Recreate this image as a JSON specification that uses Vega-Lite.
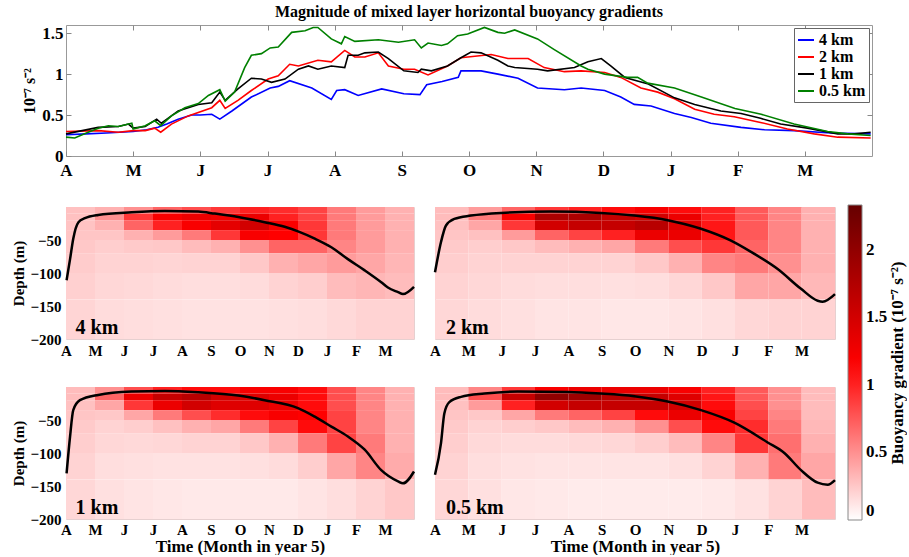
{
"$schema":"https://vega.github.io/schema/vega-lite/v6.json",
"padding":{"left":11,"top":3,"right":0,"bottom":0},
"spacing":26,
"config":{
 "font":"Liberation Serif",
 "view":{"stroke":"#999"},
 "axis":{"labelFont":"Liberation Serif","titleFont":"Liberation Serif","labelFontWeight":"bold","titleFontWeight":"bold","labelColor":"#000","titleColor":"#000","grid":false,"domain":false,"ticks":false},
 "legend":{"labelFont":"Liberation Serif","titleFont":"Liberation Serif","labelFontWeight":"bold","titleFontWeight":"bold","labelColor":"#000","titleColor":"#000"},
 "title":{"font":"Liberation Serif","fontWeight":"bold","color":"#000"}
},
"datasets":{
"lines":[
{"s":"4 km","t":0,"v":0.26},{"s":"4 km","t":0.3,"v":0.27},{"s":"4 km","t":0.6,"v":0.28},{"s":"4 km","t":1.0,"v":0.30},{"s":"4 km","t":1.2,"v":0.32},{"s":"4 km","t":1.37,"v":0.35},{"s":"4 km","t":1.5,"v":0.39},{"s":"4 km","t":1.67,"v":0.45},{"s":"4 km","t":1.87,"v":0.50},{"s":"4 km","t":2.0,"v":0.50},{"s":"4 km","t":2.17,"v":0.51},{"s":"4 km","t":2.29,"v":0.45},{"s":"4 km","t":2.47,"v":0.55},{"s":"4 km","t":2.76,"v":0.72},{"s":"4 km","t":3.04,"v":0.83},{"s":"4 km","t":3.16,"v":0.85},{"s":"4 km","t":3.33,"v":0.92},{"s":"4 km","t":3.66,"v":0.83},{"s":"4 km","t":3.95,"v":0.69},{"s":"4 km","t":4.03,"v":0.80},{"s":"4 km","t":4.15,"v":0.81},{"s":"4 km","t":4.35,"v":0.74},{"s":"4 km","t":4.7,"v":0.82},{"s":"4 km","t":5.03,"v":0.76},{"s":"4 km","t":5.27,"v":0.75},{"s":"4 km","t":5.37,"v":0.87},{"s":"4 km","t":5.6,"v":0.91},{"s":"4 km","t":5.84,"v":0.96},{"s":"4 km","t":5.88,"v":1.04},{"s":"4 km","t":6.18,"v":1.04},{"s":"4 km","t":6.43,"v":1.0},{"s":"4 km","t":6.73,"v":0.95},{"s":"4 km","t":7.02,"v":0.83},{"s":"4 km","t":7.42,"v":0.81},{"s":"4 km","t":7.67,"v":0.83},{"s":"4 km","t":8.02,"v":0.80},{"s":"4 km","t":8.26,"v":0.72},{"s":"4 km","t":8.46,"v":0.63},{"s":"4 km","t":8.71,"v":0.61},{"s":"4 km","t":9.06,"v":0.52},{"s":"4 km","t":9.31,"v":0.47},{"s":"4 km","t":9.6,"v":0.40},{"s":"4 km","t":10.05,"v":0.35},{"s":"4 km","t":10.4,"v":0.32},{"s":"4 km","t":10.84,"v":0.31},{"s":"4 km","t":11.39,"v":0.28},{"s":"4 km","t":11.98,"v":0.27},
{"s":"2 km","t":0,"v":0.30},{"s":"2 km","t":0.48,"v":0.31},{"s":"2 km","t":0.78,"v":0.29},{"s":"2 km","t":1.0,"v":0.31},{"s":"2 km","t":1.18,"v":0.31},{"s":"2 km","t":1.32,"v":0.34},{"s":"2 km","t":1.41,"v":0.29},{"s":"2 km","t":1.57,"v":0.39},{"s":"2 km","t":1.82,"v":0.49},{"s":"2 km","t":2.17,"v":0.59},{"s":"2 km","t":2.29,"v":0.68},{"s":"2 km","t":2.37,"v":0.58},{"s":"2 km","t":2.56,"v":0.68},{"s":"2 km","t":2.76,"v":0.80},{"s":"2 km","t":3.01,"v":0.94},{"s":"2 km","t":3.16,"v":0.98},{"s":"2 km","t":3.33,"v":1.12},{"s":"2 km","t":3.46,"v":1.10},{"s":"2 km","t":3.75,"v":1.17},{"s":"2 km","t":3.95,"v":1.15},{"s":"2 km","t":4.15,"v":1.29},{"s":"2 km","t":4.3,"v":1.21},{"s":"2 km","t":4.45,"v":1.21},{"s":"2 km","t":4.65,"v":1.26},{"s":"2 km","t":4.8,"v":1.10},{"s":"2 km","t":5.03,"v":1.06},{"s":"2 km","t":5.19,"v":1.06},{"s":"2 km","t":5.39,"v":0.99},{"s":"2 km","t":5.68,"v":1.10},{"s":"2 km","t":5.88,"v":1.20},{"s":"2 km","t":6.33,"v":1.24},{"s":"2 km","t":6.58,"v":1.19},{"s":"2 km","t":6.88,"v":1.19},{"s":"2 km","t":7.12,"v":1.08},{"s":"2 km","t":7.42,"v":1.03},{"s":"2 km","t":7.67,"v":1.04},{"s":"2 km","t":8.02,"v":1.02},{"s":"2 km","t":8.26,"v":0.96},{"s":"2 km","t":8.56,"v":0.83},{"s":"2 km","t":8.81,"v":0.78},{"s":"2 km","t":9.06,"v":0.70},{"s":"2 km","t":9.36,"v":0.57},{"s":"2 km","t":9.65,"v":0.51},{"s":"2 km","t":9.95,"v":0.48},{"s":"2 km","t":10.34,"v":0.41},{"s":"2 km","t":10.74,"v":0.33},{"s":"2 km","t":11.14,"v":0.27},{"s":"2 km","t":11.49,"v":0.23},{"s":"2 km","t":11.98,"v":0.22},
{"s":"1 km","t":0,"v":0.27},{"s":"1 km","t":0.48,"v":0.35},{"s":"1 km","t":0.78,"v":0.36},{"s":"1 km","t":0.93,"v":0.39},{"s":"1 km","t":1.0,"v":0.34},{"s":"1 km","t":1.18,"v":0.36},{"s":"1 km","t":1.35,"v":0.45},{"s":"1 km","t":1.42,"v":0.40},{"s":"1 km","t":1.67,"v":0.55},{"s":"1 km","t":1.97,"v":0.63},{"s":"1 km","t":2.17,"v":0.65},{"s":"1 km","t":2.29,"v":0.78},{"s":"1 km","t":2.37,"v":0.68},{"s":"1 km","t":2.56,"v":0.82},{"s":"1 km","t":2.76,"v":0.95},{"s":"1 km","t":2.91,"v":0.94},{"s":"1 km","t":3.06,"v":0.90},{"s":"1 km","t":3.26,"v":0.94},{"s":"1 km","t":3.46,"v":1.06},{"s":"1 km","t":3.61,"v":1.10},{"s":"1 km","t":3.75,"v":1.06},{"s":"1 km","t":3.95,"v":1.10},{"s":"1 km","t":4.15,"v":1.08},{"s":"1 km","t":4.2,"v":1.23},{"s":"1 km","t":4.35,"v":1.23},{"s":"1 km","t":4.45,"v":1.26},{"s":"1 km","t":4.65,"v":1.27},{"s":"1 km","t":4.8,"v":1.19},{"s":"1 km","t":5.03,"v":1.04},{"s":"1 km","t":5.24,"v":1.02},{"s":"1 km","t":5.29,"v":1.06},{"s":"1 km","t":5.44,"v":1.04},{"s":"1 km","t":5.68,"v":1.10},{"s":"1 km","t":5.88,"v":1.20},{"s":"1 km","t":6.03,"v":1.27},{"s":"1 km","t":6.18,"v":1.26},{"s":"1 km","t":6.43,"v":1.17},{"s":"1 km","t":6.58,"v":1.10},{"s":"1 km","t":6.68,"v":1.08},{"s":"1 km","t":7.02,"v":1.06},{"s":"1 km","t":7.17,"v":1.04},{"s":"1 km","t":7.57,"v":1.08},{"s":"1 km","t":7.77,"v":1.15},{"s":"1 km","t":7.97,"v":1.19},{"s":"1 km","t":8.11,"v":1.10},{"s":"1 km","t":8.32,"v":0.96},{"s":"1 km","t":8.67,"v":0.88},{"s":"1 km","t":9.06,"v":0.71},{"s":"1 km","t":9.36,"v":0.63},{"s":"1 km","t":9.75,"v":0.55},{"s":"1 km","t":10.05,"v":0.52},{"s":"1 km","t":10.34,"v":0.46},{"s":"1 km","t":10.64,"v":0.39},{"s":"1 km","t":11.04,"v":0.34},{"s":"1 km","t":11.49,"v":0.27},{"s":"1 km","t":11.74,"v":0.27},{"s":"1 km","t":11.98,"v":0.29},
{"s":"0.5 km","t":0,"v":0.23},{"s":"0.5 km","t":0.13,"v":0.22},{"s":"0.5 km","t":0.33,"v":0.29},{"s":"0.5 km","t":0.48,"v":0.34},{"s":"0.5 km","t":0.63,"v":0.37},{"s":"0.5 km","t":0.78,"v":0.36},{"s":"0.5 km","t":0.98,"v":0.40},{"s":"0.5 km","t":1.0,"v":0.33},{"s":"0.5 km","t":1.18,"v":0.37},{"s":"0.5 km","t":1.32,"v":0.43},{"s":"0.5 km","t":1.41,"v":0.37},{"s":"0.5 km","t":1.57,"v":0.49},{"s":"0.5 km","t":1.77,"v":0.59},{"s":"0.5 km","t":1.97,"v":0.64},{"s":"0.5 km","t":2.12,"v":0.74},{"s":"0.5 km","t":2.29,"v":0.81},{"s":"0.5 km","t":2.37,"v":0.67},{"s":"0.5 km","t":2.51,"v":0.78},{"s":"0.5 km","t":2.66,"v":1.08},{"s":"0.5 km","t":2.76,"v":1.23},{"s":"0.5 km","t":2.91,"v":1.25},{"s":"0.5 km","t":3.04,"v":1.32},{"s":"0.5 km","t":3.16,"v":1.33},{"s":"0.5 km","t":3.36,"v":1.51},{"s":"0.5 km","t":3.56,"v":1.53},{"s":"0.5 km","t":3.68,"v":1.57},{"s":"0.5 km","t":3.75,"v":1.57},{"s":"0.5 km","t":3.95,"v":1.43},{"s":"0.5 km","t":4.1,"v":1.37},{"s":"0.5 km","t":4.15,"v":1.46},{"s":"0.5 km","t":4.3,"v":1.40},{"s":"0.5 km","t":4.65,"v":1.42},{"s":"0.5 km","t":4.95,"v":1.39},{"s":"0.5 km","t":5.19,"v":1.42},{"s":"0.5 km","t":5.29,"v":1.32},{"s":"0.5 km","t":5.39,"v":1.38},{"s":"0.5 km","t":5.59,"v":1.35},{"s":"0.5 km","t":5.68,"v":1.37},{"s":"0.5 km","t":5.83,"v":1.47},{"s":"0.5 km","t":5.98,"v":1.49},{"s":"0.5 km","t":6.23,"v":1.57},{"s":"0.5 km","t":6.43,"v":1.51},{"s":"0.5 km","t":6.53,"v":1.50},{"s":"0.5 km","t":6.68,"v":1.54},{"s":"0.5 km","t":7.02,"v":1.43},{"s":"0.5 km","t":7.27,"v":1.30},{"s":"0.5 km","t":7.67,"v":1.10},{"s":"0.5 km","t":7.77,"v":1.06},{"s":"0.5 km","t":8.02,"v":1.00},{"s":"0.5 km","t":8.36,"v":0.96},{"s":"0.5 km","t":8.51,"v":0.96},{"s":"0.5 km","t":8.66,"v":0.89},{"s":"0.5 km","t":9.06,"v":0.83},{"s":"0.5 km","t":9.46,"v":0.72},{"s":"0.5 km","t":9.96,"v":0.58},{"s":"0.5 km","t":10.35,"v":0.51},{"s":"0.5 km","t":10.84,"v":0.39},{"s":"0.5 km","t":11.34,"v":0.30},{"s":"0.5 km","t":11.64,"v":0.27},{"s":"0.5 km","t":11.98,"v":0.25}
],
"mld":[
{"p":"4 km","t":0.02,"z":-111},{"p":"4 km","t":0.14,"z":-79},{"p":"4 km","t":0.25,"z":-48},{"p":"4 km","t":0.43,"z":-23},{"p":"4 km","t":0.65,"z":-17},{"p":"4 km","t":1.11,"z":-12},{"p":"4 km","t":2.26,"z":-8},{"p":"4 km","t":3.41,"z":-6},{"p":"4 km","t":4.56,"z":-7},{"p":"4 km","t":5.13,"z":-10},{"p":"4 km","t":5.94,"z":-15},{"p":"4 km","t":6.85,"z":-23},{"p":"4 km","t":7.54,"z":-30},{"p":"4 km","t":8.0,"z":-37},{"p":"4 km","t":8.58,"z":-48},{"p":"4 km","t":9.15,"z":-61},{"p":"4 km","t":9.72,"z":-79},{"p":"4 km","t":10.3,"z":-96},{"p":"4 km","t":10.87,"z":-114},{"p":"4 km","t":11.1,"z":-122},{"p":"4 km","t":11.45,"z":-129},{"p":"4 km","t":11.62,"z":-132},{"p":"4 km","t":12,"z":-121},
{"p":"2 km","t":0,"z":-99},{"p":"2 km","t":0.18,"z":-53},{"p":"2 km","t":0.33,"z":-28},{"p":"2 km","t":0.58,"z":-18},{"p":"2 km","t":1.08,"z":-13},{"p":"2 km","t":1.98,"z":-9},{"p":"2 km","t":3.48,"z":-7},{"p":"2 km","t":4.98,"z":-9},{"p":"2 km","t":5.98,"z":-13},{"p":"2 km","t":6.98,"z":-20},{"p":"2 km","t":7.98,"z":-33},{"p":"2 km","t":8.88,"z":-51},{"p":"2 km","t":9.48,"z":-68},{"p":"2 km","t":10.28,"z":-94},{"p":"2 km","t":10.98,"z":-124},{"p":"2 km","t":11.48,"z":-142},{"p":"2 km","t":11.63,"z":-143.5},{"p":"2 km","t":12,"z":-132},
{"p":"1 km","t":0.02,"z":-131},{"p":"1 km","t":0.14,"z":-75},{"p":"1 km","t":0.25,"z":-35},{"p":"1 km","t":0.48,"z":-20},{"p":"1 km","t":1.11,"z":-12},{"p":"1 km","t":2.26,"z":-7},{"p":"1 km","t":3.41,"z":-6},{"p":"1 km","t":4.56,"z":-8},{"p":"1 km","t":5.94,"z":-13},{"p":"1 km","t":6.85,"z":-20},{"p":"1 km","t":8.0,"z":-32},{"p":"1 km","t":8.58,"z":-45},{"p":"1 km","t":9.15,"z":-60},{"p":"1 km","t":9.72,"z":-75},{"p":"1 km","t":10.3,"z":-95},{"p":"1 km","t":10.87,"z":-126},{"p":"1 km","t":11.45,"z":-143},{"p":"1 km","t":11.62,"z":-146},{"p":"1 km","t":12,"z":-128},
{"p":"0.5 km","t":0,"z":-133},{"p":"0.5 km","t":0.18,"z":-85},{"p":"0.5 km","t":0.28,"z":-40},{"p":"0.5 km","t":0.43,"z":-23},{"p":"0.5 km","t":0.78,"z":-15},{"p":"0.5 km","t":1.48,"z":-10},{"p":"0.5 km","t":2.48,"z":-7},{"p":"0.5 km","t":3.98,"z":-7.6},{"p":"0.5 km","t":4.98,"z":-10},{"p":"0.5 km","t":5.98,"z":-14},{"p":"0.5 km","t":6.98,"z":-22},{"p":"0.5 km","t":7.98,"z":-35},{"p":"0.5 km","t":8.98,"z":-54},{"p":"0.5 km","t":9.98,"z":-84},{"p":"0.5 km","t":10.48,"z":-100},{"p":"0.5 km","t":10.98,"z":-126},{"p":"0.5 km","t":11.48,"z":-145},{"p":"0.5 km","t":11.78,"z":-148},{"p":"0.5 km","t":12,"z":-141}
],
"heat":[
{"p":"4 km","t":0,"t2":1,"z":0,"z2":-10,"v":0.28},{"p":"4 km","t":0,"t2":1,"z":-10,"z2":-20,"v":0.28},{"p":"4 km","t":0,"t2":1,"z":-20,"z2":-35,"v":0.27},{"p":"4 km","t":0,"t2":1,"z":-35,"z2":-50,"v":0.26},{"p":"4 km","t":0,"t2":1,"z":-50,"z2":-70,"v":0.25},{"p":"4 km","t":0,"t2":1,"z":-70,"z2":-100,"v":0.23},{"p":"4 km","t":0,"t2":1,"z":-100,"z2":-140,"v":0.21},{"p":"4 km","t":0,"t2":1,"z":-140,"z2":-200,"v":0.19},
{"p":"4 km","t":1,"t2":2,"z":0,"z2":-10,"v":0.35},{"p":"4 km","t":1,"t2":2,"z":-10,"z2":-20,"v":0.5},{"p":"4 km","t":1,"t2":2,"z":-20,"z2":-35,"v":0.35},{"p":"4 km","t":1,"t2":2,"z":-35,"z2":-50,"v":0.26},{"p":"4 km","t":1,"t2":2,"z":-50,"z2":-70,"v":0.22},{"p":"4 km","t":1,"t2":2,"z":-70,"z2":-100,"v":0.2},{"p":"4 km","t":1,"t2":2,"z":-100,"z2":-140,"v":0.18},{"p":"4 km","t":1,"t2":2,"z":-140,"z2":-200,"v":0.16},
{"p":"4 km","t":2,"t2":3,"z":0,"z2":-10,"v":0.5},{"p":"4 km","t":2,"t2":3,"z":-10,"z2":-20,"v":0.9},{"p":"4 km","t":2,"t2":3,"z":-20,"z2":-35,"v":0.7},{"p":"4 km","t":2,"t2":3,"z":-35,"z2":-50,"v":0.35},{"p":"4 km","t":2,"t2":3,"z":-50,"z2":-70,"v":0.24},{"p":"4 km","t":2,"t2":3,"z":-70,"z2":-100,"v":0.2},{"p":"4 km","t":2,"t2":3,"z":-100,"z2":-140,"v":0.17},{"p":"4 km","t":2,"t2":3,"z":-140,"z2":-200,"v":0.15},
{"p":"4 km","t":3,"t2":4,"z":0,"z2":-10,"v":0.7},{"p":"4 km","t":3,"t2":4,"z":-10,"z2":-20,"v":1.2},{"p":"4 km","t":3,"t2":4,"z":-20,"z2":-35,"v":1.0},{"p":"4 km","t":3,"t2":4,"z":-35,"z2":-50,"v":0.45},{"p":"4 km","t":3,"t2":4,"z":-50,"z2":-70,"v":0.25},{"p":"4 km","t":3,"t2":4,"z":-70,"z2":-100,"v":0.19},{"p":"4 km","t":3,"t2":4,"z":-100,"z2":-140,"v":0.16},{"p":"4 km","t":3,"t2":4,"z":-140,"z2":-200,"v":0.14},
{"p":"4 km","t":4,"t2":5,"z":0,"z2":-10,"v":0.8},{"p":"4 km","t":4,"t2":5,"z":-10,"z2":-20,"v":1.3},{"p":"4 km","t":4,"t2":5,"z":-20,"z2":-35,"v":1.2},{"p":"4 km","t":4,"t2":5,"z":-35,"z2":-50,"v":0.6},{"p":"4 km","t":4,"t2":5,"z":-50,"z2":-70,"v":0.3},{"p":"4 km","t":4,"t2":5,"z":-70,"z2":-100,"v":0.2},{"p":"4 km","t":4,"t2":5,"z":-100,"z2":-140,"v":0.15},{"p":"4 km","t":4,"t2":5,"z":-140,"z2":-200,"v":0.13},
{"p":"4 km","t":5,"t2":6,"z":0,"z2":-10,"v":0.9},{"p":"4 km","t":5,"t2":6,"z":-10,"z2":-20,"v":1.25},{"p":"4 km","t":5,"t2":6,"z":-20,"z2":-35,"v":1.35},{"p":"4 km","t":5,"t2":6,"z":-35,"z2":-50,"v":0.9},{"p":"4 km","t":5,"t2":6,"z":-50,"z2":-70,"v":0.35},{"p":"4 km","t":5,"t2":6,"z":-70,"z2":-100,"v":0.2},{"p":"4 km","t":5,"t2":6,"z":-100,"z2":-140,"v":0.15},{"p":"4 km","t":5,"t2":6,"z":-140,"z2":-200,"v":0.13},
{"p":"4 km","t":6,"t2":7,"z":0,"z2":-10,"v":1.0},{"p":"4 km","t":6,"t2":7,"z":-10,"z2":-20,"v":1.3},{"p":"4 km","t":6,"t2":7,"z":-20,"z2":-35,"v":1.5},{"p":"4 km","t":6,"t2":7,"z":-35,"z2":-50,"v":1.2},{"p":"4 km","t":6,"t2":7,"z":-50,"z2":-70,"v":0.5},{"p":"4 km","t":6,"t2":7,"z":-70,"z2":-100,"v":0.25},{"p":"4 km","t":6,"t2":7,"z":-100,"z2":-140,"v":0.16},{"p":"4 km","t":6,"t2":7,"z":-140,"z2":-200,"v":0.13},
{"p":"4 km","t":7,"t2":8,"z":0,"z2":-10,"v":0.95},{"p":"4 km","t":7,"t2":8,"z":-10,"z2":-20,"v":1.0},{"p":"4 km","t":7,"t2":8,"z":-20,"z2":-35,"v":1.2},{"p":"4 km","t":7,"t2":8,"z":-35,"z2":-50,"v":1.15},{"p":"4 km","t":7,"t2":8,"z":-50,"z2":-70,"v":0.7},{"p":"4 km","t":7,"t2":8,"z":-70,"z2":-100,"v":0.35},{"p":"4 km","t":7,"t2":8,"z":-100,"z2":-140,"v":0.2},{"p":"4 km","t":7,"t2":8,"z":-140,"z2":-200,"v":0.14},
{"p":"4 km","t":8,"t2":9,"z":0,"z2":-10,"v":0.85},{"p":"4 km","t":8,"t2":9,"z":-10,"z2":-20,"v":0.85},{"p":"4 km","t":8,"t2":9,"z":-20,"z2":-35,"v":0.9},{"p":"4 km","t":8,"t2":9,"z":-35,"z2":-50,"v":0.9},{"p":"4 km","t":8,"t2":9,"z":-50,"z2":-70,"v":0.7},{"p":"4 km","t":8,"t2":9,"z":-70,"z2":-100,"v":0.4},{"p":"4 km","t":8,"t2":9,"z":-100,"z2":-140,"v":0.22},{"p":"4 km","t":8,"t2":9,"z":-140,"z2":-200,"v":0.15},
{"p":"4 km","t":9,"t2":10,"z":0,"z2":-10,"v":0.6},{"p":"4 km","t":9,"t2":10,"z":-10,"z2":-20,"v":0.6},{"p":"4 km","t":9,"t2":10,"z":-20,"z2":-35,"v":0.6},{"p":"4 km","t":9,"t2":10,"z":-35,"z2":-50,"v":0.6},{"p":"4 km","t":9,"t2":10,"z":-50,"z2":-70,"v":0.55},{"p":"4 km","t":9,"t2":10,"z":-70,"z2":-100,"v":0.45},{"p":"4 km","t":9,"t2":10,"z":-100,"z2":-140,"v":0.3},{"p":"4 km","t":9,"t2":10,"z":-140,"z2":-200,"v":0.17},
{"p":"4 km","t":10,"t2":11,"z":0,"z2":-10,"v":0.45},{"p":"4 km","t":10,"t2":11,"z":-10,"z2":-20,"v":0.45},{"p":"4 km","t":10,"t2":11,"z":-20,"z2":-35,"v":0.45},{"p":"4 km","t":10,"t2":11,"z":-35,"z2":-50,"v":0.45},{"p":"4 km","t":10,"t2":11,"z":-50,"z2":-70,"v":0.45},{"p":"4 km","t":10,"t2":11,"z":-70,"z2":-100,"v":0.4},{"p":"4 km","t":10,"t2":11,"z":-100,"z2":-140,"v":0.33},{"p":"4 km","t":10,"t2":11,"z":-140,"z2":-200,"v":0.2},
{"p":"4 km","t":11,"t2":12,"z":0,"z2":-10,"v":0.35},{"p":"4 km","t":11,"t2":12,"z":-10,"z2":-20,"v":0.35},{"p":"4 km","t":11,"t2":12,"z":-20,"z2":-35,"v":0.35},{"p":"4 km","t":11,"t2":12,"z":-35,"z2":-50,"v":0.35},{"p":"4 km","t":11,"t2":12,"z":-50,"z2":-70,"v":0.35},{"p":"4 km","t":11,"t2":12,"z":-70,"z2":-100,"v":0.33},{"p":"4 km","t":11,"t2":12,"z":-100,"z2":-140,"v":0.3},{"p":"4 km","t":11,"t2":12,"z":-140,"z2":-200,"v":0.2},
{"p":"2 km","t":0,"t2":1,"z":0,"z2":-10,"v":0.3},{"p":"2 km","t":0,"t2":1,"z":-10,"z2":-20,"v":0.3},{"p":"2 km","t":0,"t2":1,"z":-20,"z2":-35,"v":0.28},{"p":"2 km","t":0,"t2":1,"z":-35,"z2":-50,"v":0.26},{"p":"2 km","t":0,"t2":1,"z":-50,"z2":-70,"v":0.24},{"p":"2 km","t":0,"t2":1,"z":-70,"z2":-100,"v":0.22},{"p":"2 km","t":0,"t2":1,"z":-100,"z2":-140,"v":0.2},{"p":"2 km","t":0,"t2":1,"z":-140,"z2":-200,"v":0.18},
{"p":"2 km","t":1,"t2":2,"z":0,"z2":-10,"v":0.45},{"p":"2 km","t":1,"t2":2,"z":-10,"z2":-20,"v":0.6},{"p":"2 km","t":1,"t2":2,"z":-20,"z2":-35,"v":0.4},{"p":"2 km","t":1,"t2":2,"z":-35,"z2":-50,"v":0.28},{"p":"2 km","t":1,"t2":2,"z":-50,"z2":-70,"v":0.22},{"p":"2 km","t":1,"t2":2,"z":-70,"z2":-100,"v":0.2},{"p":"2 km","t":1,"t2":2,"z":-100,"z2":-140,"v":0.18},{"p":"2 km","t":1,"t2":2,"z":-140,"z2":-200,"v":0.16},
{"p":"2 km","t":2,"t2":3,"z":0,"z2":-10,"v":0.7},{"p":"2 km","t":2,"t2":3,"z":-10,"z2":-20,"v":1.2},{"p":"2 km","t":2,"t2":3,"z":-20,"z2":-35,"v":0.9},{"p":"2 km","t":2,"t2":3,"z":-35,"z2":-50,"v":0.45},{"p":"2 km","t":2,"t2":3,"z":-50,"z2":-70,"v":0.25},{"p":"2 km","t":2,"t2":3,"z":-70,"z2":-100,"v":0.2},{"p":"2 km","t":2,"t2":3,"z":-100,"z2":-140,"v":0.16},{"p":"2 km","t":2,"t2":3,"z":-140,"z2":-200,"v":0.14},
{"p":"2 km","t":3,"t2":4,"z":0,"z2":-10,"v":0.9},{"p":"2 km","t":3,"t2":4,"z":-10,"z2":-20,"v":1.8},{"p":"2 km","t":3,"t2":4,"z":-20,"z2":-35,"v":1.5},{"p":"2 km","t":3,"t2":4,"z":-35,"z2":-50,"v":0.7},{"p":"2 km","t":3,"t2":4,"z":-50,"z2":-70,"v":0.3},{"p":"2 km","t":3,"t2":4,"z":-70,"z2":-100,"v":0.2},{"p":"2 km","t":3,"t2":4,"z":-100,"z2":-140,"v":0.15},{"p":"2 km","t":3,"t2":4,"z":-140,"z2":-200,"v":0.12},
{"p":"2 km","t":4,"t2":5,"z":0,"z2":-10,"v":1.0},{"p":"2 km","t":4,"t2":5,"z":-10,"z2":-20,"v":1.8},{"p":"2 km","t":4,"t2":5,"z":-20,"z2":-35,"v":1.6},{"p":"2 km","t":4,"t2":5,"z":-35,"z2":-50,"v":0.85},{"p":"2 km","t":4,"t2":5,"z":-50,"z2":-70,"v":0.35},{"p":"2 km","t":4,"t2":5,"z":-70,"z2":-100,"v":0.2},{"p":"2 km","t":4,"t2":5,"z":-100,"z2":-140,"v":0.15},{"p":"2 km","t":4,"t2":5,"z":-140,"z2":-200,"v":0.12},
{"p":"2 km","t":5,"t2":6,"z":0,"z2":-10,"v":1.1},{"p":"2 km","t":5,"t2":6,"z":-10,"z2":-20,"v":1.6},{"p":"2 km","t":5,"t2":6,"z":-20,"z2":-35,"v":1.6},{"p":"2 km","t":5,"t2":6,"z":-35,"z2":-50,"v":1.0},{"p":"2 km","t":5,"t2":6,"z":-50,"z2":-70,"v":0.4},{"p":"2 km","t":5,"t2":6,"z":-70,"z2":-100,"v":0.2},{"p":"2 km","t":5,"t2":6,"z":-100,"z2":-140,"v":0.14},{"p":"2 km","t":5,"t2":6,"z":-140,"z2":-200,"v":0.11},
{"p":"2 km","t":6,"t2":7,"z":0,"z2":-10,"v":1.2},{"p":"2 km","t":6,"t2":7,"z":-10,"z2":-20,"v":1.5},{"p":"2 km","t":6,"t2":7,"z":-20,"z2":-35,"v":1.7},{"p":"2 km","t":6,"t2":7,"z":-35,"z2":-50,"v":1.3},{"p":"2 km","t":6,"t2":7,"z":-50,"z2":-70,"v":0.6},{"p":"2 km","t":6,"t2":7,"z":-70,"z2":-100,"v":0.25},{"p":"2 km","t":6,"t2":7,"z":-100,"z2":-140,"v":0.15},{"p":"2 km","t":6,"t2":7,"z":-140,"z2":-200,"v":0.11},
{"p":"2 km","t":7,"t2":8,"z":0,"z2":-10,"v":1.1},{"p":"2 km","t":7,"t2":8,"z":-10,"z2":-20,"v":1.3},{"p":"2 km","t":7,"t2":8,"z":-20,"z2":-35,"v":1.4},{"p":"2 km","t":7,"t2":8,"z":-35,"z2":-50,"v":1.3},{"p":"2 km","t":7,"t2":8,"z":-50,"z2":-70,"v":0.8},{"p":"2 km","t":7,"t2":8,"z":-70,"z2":-100,"v":0.35},{"p":"2 km","t":7,"t2":8,"z":-100,"z2":-140,"v":0.18},{"p":"2 km","t":7,"t2":8,"z":-140,"z2":-200,"v":0.12},
{"p":"2 km","t":8,"t2":9,"z":0,"z2":-10,"v":1.0},{"p":"2 km","t":8,"t2":9,"z":-10,"z2":-20,"v":1.0},{"p":"2 km","t":8,"t2":9,"z":-20,"z2":-35,"v":1.05},{"p":"2 km","t":8,"t2":9,"z":-35,"z2":-50,"v":1.05},{"p":"2 km","t":8,"t2":9,"z":-50,"z2":-70,"v":0.9},{"p":"2 km","t":8,"t2":9,"z":-70,"z2":-100,"v":0.55},{"p":"2 km","t":8,"t2":9,"z":-100,"z2":-140,"v":0.25},{"p":"2 km","t":8,"t2":9,"z":-140,"z2":-200,"v":0.14},
{"p":"2 km","t":9,"t2":10,"z":0,"z2":-10,"v":0.75},{"p":"2 km","t":9,"t2":10,"z":-10,"z2":-20,"v":0.75},{"p":"2 km","t":9,"t2":10,"z":-20,"z2":-35,"v":0.75},{"p":"2 km","t":9,"t2":10,"z":-35,"z2":-50,"v":0.75},{"p":"2 km","t":9,"t2":10,"z":-50,"z2":-70,"v":0.7},{"p":"2 km","t":9,"t2":10,"z":-70,"z2":-100,"v":0.6},{"p":"2 km","t":9,"t2":10,"z":-100,"z2":-140,"v":0.4},{"p":"2 km","t":9,"t2":10,"z":-140,"z2":-200,"v":0.18},
{"p":"2 km","t":10,"t2":11,"z":0,"z2":-10,"v":0.55},{"p":"2 km","t":10,"t2":11,"z":-10,"z2":-20,"v":0.55},{"p":"2 km","t":10,"t2":11,"z":-20,"z2":-35,"v":0.55},{"p":"2 km","t":10,"t2":11,"z":-35,"z2":-50,"v":0.55},{"p":"2 km","t":10,"t2":11,"z":-50,"z2":-70,"v":0.55},{"p":"2 km","t":10,"t2":11,"z":-70,"z2":-100,"v":0.5},{"p":"2 km","t":10,"t2":11,"z":-100,"z2":-140,"v":0.4},{"p":"2 km","t":10,"t2":11,"z":-140,"z2":-200,"v":0.2},
{"p":"2 km","t":11,"t2":12,"z":0,"z2":-10,"v":0.35},{"p":"2 km","t":11,"t2":12,"z":-10,"z2":-20,"v":0.35},{"p":"2 km","t":11,"t2":12,"z":-20,"z2":-35,"v":0.35},{"p":"2 km","t":11,"t2":12,"z":-35,"z2":-50,"v":0.35},{"p":"2 km","t":11,"t2":12,"z":-50,"z2":-70,"v":0.35},{"p":"2 km","t":11,"t2":12,"z":-70,"z2":-100,"v":0.35},{"p":"2 km","t":11,"t2":12,"z":-100,"z2":-140,"v":0.32},{"p":"2 km","t":11,"t2":12,"z":-140,"z2":-200,"v":0.2},
{"p":"1 km","t":0,"t2":1,"z":0,"z2":-10,"v":0.3},{"p":"1 km","t":0,"t2":1,"z":-10,"z2":-20,"v":0.3},{"p":"1 km","t":0,"t2":1,"z":-20,"z2":-35,"v":0.28},{"p":"1 km","t":0,"t2":1,"z":-35,"z2":-50,"v":0.26},{"p":"1 km","t":0,"t2":1,"z":-50,"z2":-70,"v":0.24},{"p":"1 km","t":0,"t2":1,"z":-70,"z2":-100,"v":0.22},{"p":"1 km","t":0,"t2":1,"z":-100,"z2":-140,"v":0.2},{"p":"1 km","t":0,"t2":1,"z":-140,"z2":-200,"v":0.18},
{"p":"1 km","t":1,"t2":2,"z":0,"z2":-10,"v":0.5},{"p":"1 km","t":1,"t2":2,"z":-10,"z2":-20,"v":0.7},{"p":"1 km","t":1,"t2":2,"z":-20,"z2":-35,"v":0.4},{"p":"1 km","t":1,"t2":2,"z":-35,"z2":-50,"v":0.25},{"p":"1 km","t":1,"t2":2,"z":-50,"z2":-70,"v":0.2},{"p":"1 km","t":1,"t2":2,"z":-70,"z2":-100,"v":0.18},{"p":"1 km","t":1,"t2":2,"z":-100,"z2":-140,"v":0.15},{"p":"1 km","t":1,"t2":2,"z":-140,"z2":-200,"v":0.14},
{"p":"1 km","t":2,"t2":3,"z":0,"z2":-10,"v":0.8},{"p":"1 km","t":2,"t2":3,"z":-10,"z2":-20,"v":1.3},{"p":"1 km","t":2,"t2":3,"z":-20,"z2":-35,"v":0.9},{"p":"1 km","t":2,"t2":3,"z":-35,"z2":-50,"v":0.4},{"p":"1 km","t":2,"t2":3,"z":-50,"z2":-70,"v":0.22},{"p":"1 km","t":2,"t2":3,"z":-70,"z2":-100,"v":0.17},{"p":"1 km","t":2,"t2":3,"z":-100,"z2":-140,"v":0.14},{"p":"1 km","t":2,"t2":3,"z":-140,"z2":-200,"v":0.12},
{"p":"1 km","t":3,"t2":4,"z":0,"z2":-10,"v":1.0},{"p":"1 km","t":3,"t2":4,"z":-10,"z2":-20,"v":1.6},{"p":"1 km","t":3,"t2":4,"z":-20,"z2":-35,"v":1.3},{"p":"1 km","t":3,"t2":4,"z":-35,"z2":-50,"v":0.6},{"p":"1 km","t":3,"t2":4,"z":-50,"z2":-70,"v":0.28},{"p":"1 km","t":3,"t2":4,"z":-70,"z2":-100,"v":0.18},{"p":"1 km","t":3,"t2":4,"z":-100,"z2":-140,"v":0.13},{"p":"1 km","t":3,"t2":4,"z":-140,"z2":-200,"v":0.11},
{"p":"1 km","t":4,"t2":5,"z":0,"z2":-10,"v":1.1},{"p":"1 km","t":4,"t2":5,"z":-10,"z2":-20,"v":1.7},{"p":"1 km","t":4,"t2":5,"z":-20,"z2":-35,"v":1.5},{"p":"1 km","t":4,"t2":5,"z":-35,"z2":-50,"v":0.8},{"p":"1 km","t":4,"t2":5,"z":-50,"z2":-70,"v":0.35},{"p":"1 km","t":4,"t2":5,"z":-70,"z2":-100,"v":0.2},{"p":"1 km","t":4,"t2":5,"z":-100,"z2":-140,"v":0.13},{"p":"1 km","t":4,"t2":5,"z":-140,"z2":-200,"v":0.1},
{"p":"1 km","t":5,"t2":6,"z":0,"z2":-10,"v":1.1},{"p":"1 km","t":5,"t2":6,"z":-10,"z2":-20,"v":1.5},{"p":"1 km","t":5,"t2":6,"z":-20,"z2":-35,"v":1.4},{"p":"1 km","t":5,"t2":6,"z":-35,"z2":-50,"v":0.95},{"p":"1 km","t":5,"t2":6,"z":-50,"z2":-70,"v":0.4},{"p":"1 km","t":5,"t2":6,"z":-70,"z2":-100,"v":0.2},{"p":"1 km","t":5,"t2":6,"z":-100,"z2":-140,"v":0.13},{"p":"1 km","t":5,"t2":6,"z":-140,"z2":-200,"v":0.1},
{"p":"1 km","t":6,"t2":7,"z":0,"z2":-10,"v":1.2},{"p":"1 km","t":6,"t2":7,"z":-10,"z2":-20,"v":1.4},{"p":"1 km","t":6,"t2":7,"z":-20,"z2":-35,"v":1.4},{"p":"1 km","t":6,"t2":7,"z":-35,"z2":-50,"v":1.1},{"p":"1 km","t":6,"t2":7,"z":-50,"z2":-70,"v":0.6},{"p":"1 km","t":6,"t2":7,"z":-70,"z2":-100,"v":0.25},{"p":"1 km","t":6,"t2":7,"z":-100,"z2":-140,"v":0.14},{"p":"1 km","t":6,"t2":7,"z":-140,"z2":-200,"v":0.1},
{"p":"1 km","t":7,"t2":8,"z":0,"z2":-10,"v":1.2},{"p":"1 km","t":7,"t2":8,"z":-10,"z2":-20,"v":1.3},{"p":"1 km","t":7,"t2":8,"z":-20,"z2":-35,"v":1.3},{"p":"1 km","t":7,"t2":8,"z":-35,"z2":-50,"v":1.2},{"p":"1 km","t":7,"t2":8,"z":-50,"z2":-70,"v":0.85},{"p":"1 km","t":7,"t2":8,"z":-70,"z2":-100,"v":0.35},{"p":"1 km","t":7,"t2":8,"z":-100,"z2":-140,"v":0.16},{"p":"1 km","t":7,"t2":8,"z":-140,"z2":-200,"v":0.1},
{"p":"1 km","t":8,"t2":9,"z":0,"z2":-10,"v":1.1},{"p":"1 km","t":8,"t2":9,"z":-10,"z2":-20,"v":1.1},{"p":"1 km","t":8,"t2":9,"z":-20,"z2":-35,"v":1.1},{"p":"1 km","t":8,"t2":9,"z":-35,"z2":-50,"v":1.15},{"p":"1 km","t":8,"t2":9,"z":-50,"z2":-70,"v":1.1},{"p":"1 km","t":8,"t2":9,"z":-70,"z2":-100,"v":0.6},{"p":"1 km","t":8,"t2":9,"z":-100,"z2":-140,"v":0.22},{"p":"1 km","t":8,"t2":9,"z":-140,"z2":-200,"v":0.12},
{"p":"1 km","t":9,"t2":10,"z":0,"z2":-10,"v":0.8},{"p":"1 km","t":9,"t2":10,"z":-10,"z2":-20,"v":0.8},{"p":"1 km","t":9,"t2":10,"z":-20,"z2":-35,"v":0.8},{"p":"1 km","t":9,"t2":10,"z":-35,"z2":-50,"v":0.85},{"p":"1 km","t":9,"t2":10,"z":-50,"z2":-70,"v":0.85},{"p":"1 km","t":9,"t2":10,"z":-70,"z2":-100,"v":0.85},{"p":"1 km","t":9,"t2":10,"z":-100,"z2":-140,"v":0.4},{"p":"1 km","t":9,"t2":10,"z":-140,"z2":-200,"v":0.15},
{"p":"1 km","t":10,"t2":11,"z":0,"z2":-10,"v":0.55},{"p":"1 km","t":10,"t2":11,"z":-10,"z2":-20,"v":0.55},{"p":"1 km","t":10,"t2":11,"z":-20,"z2":-35,"v":0.55},{"p":"1 km","t":10,"t2":11,"z":-35,"z2":-50,"v":0.55},{"p":"1 km","t":10,"t2":11,"z":-50,"z2":-70,"v":0.55},{"p":"1 km","t":10,"t2":11,"z":-70,"z2":-100,"v":0.6},{"p":"1 km","t":10,"t2":11,"z":-100,"z2":-140,"v":0.55},{"p":"1 km","t":10,"t2":11,"z":-140,"z2":-200,"v":0.2},
{"p":"1 km","t":11,"t2":12,"z":0,"z2":-10,"v":0.35},{"p":"1 km","t":11,"t2":12,"z":-10,"z2":-20,"v":0.35},{"p":"1 km","t":11,"t2":12,"z":-20,"z2":-35,"v":0.35},{"p":"1 km","t":11,"t2":12,"z":-35,"z2":-50,"v":0.35},{"p":"1 km","t":11,"t2":12,"z":-50,"z2":-70,"v":0.35},{"p":"1 km","t":11,"t2":12,"z":-70,"z2":-100,"v":0.35},{"p":"1 km","t":11,"t2":12,"z":-100,"z2":-140,"v":0.38},{"p":"1 km","t":11,"t2":12,"z":-140,"z2":-200,"v":0.25},
{"p":"0.5 km","t":0,"t2":1,"z":0,"z2":-10,"v":0.3},{"p":"0.5 km","t":0,"t2":1,"z":-10,"z2":-20,"v":0.3},{"p":"0.5 km","t":0,"t2":1,"z":-20,"z2":-35,"v":0.28},{"p":"0.5 km","t":0,"t2":1,"z":-35,"z2":-50,"v":0.26},{"p":"0.5 km","t":0,"t2":1,"z":-50,"z2":-70,"v":0.24},{"p":"0.5 km","t":0,"t2":1,"z":-70,"z2":-100,"v":0.22},{"p":"0.5 km","t":0,"t2":1,"z":-100,"z2":-140,"v":0.2},{"p":"0.5 km","t":0,"t2":1,"z":-140,"z2":-200,"v":0.18},
{"p":"0.5 km","t":1,"t2":2,"z":0,"z2":-10,"v":0.55},{"p":"0.5 km","t":1,"t2":2,"z":-10,"z2":-20,"v":0.8},{"p":"0.5 km","t":1,"t2":2,"z":-20,"z2":-35,"v":0.45},{"p":"0.5 km","t":1,"t2":2,"z":-35,"z2":-50,"v":0.25},{"p":"0.5 km","t":1,"t2":2,"z":-50,"z2":-70,"v":0.2},{"p":"0.5 km","t":1,"t2":2,"z":-70,"z2":-100,"v":0.17},{"p":"0.5 km","t":1,"t2":2,"z":-100,"z2":-140,"v":0.15},{"p":"0.5 km","t":1,"t2":2,"z":-140,"z2":-200,"v":0.14},
{"p":"0.5 km","t":2,"t2":3,"z":0,"z2":-10,"v":0.9},{"p":"0.5 km","t":2,"t2":3,"z":-10,"z2":-20,"v":1.6},{"p":"0.5 km","t":2,"t2":3,"z":-20,"z2":-35,"v":1.0},{"p":"0.5 km","t":2,"t2":3,"z":-35,"z2":-50,"v":0.4},{"p":"0.5 km","t":2,"t2":3,"z":-50,"z2":-70,"v":0.22},{"p":"0.5 km","t":2,"t2":3,"z":-70,"z2":-100,"v":0.16},{"p":"0.5 km","t":2,"t2":3,"z":-100,"z2":-140,"v":0.13},{"p":"0.5 km","t":2,"t2":3,"z":-140,"z2":-200,"v":0.11},
{"p":"0.5 km","t":3,"t2":4,"z":0,"z2":-10,"v":1.2},{"p":"0.5 km","t":3,"t2":4,"z":-10,"z2":-20,"v":2.0},{"p":"0.5 km","t":3,"t2":4,"z":-20,"z2":-35,"v":1.5},{"p":"0.5 km","t":3,"t2":4,"z":-35,"z2":-50,"v":0.6},{"p":"0.5 km","t":3,"t2":4,"z":-50,"z2":-70,"v":0.25},{"p":"0.5 km","t":3,"t2":4,"z":-70,"z2":-100,"v":0.16},{"p":"0.5 km","t":3,"t2":4,"z":-100,"z2":-140,"v":0.12},{"p":"0.5 km","t":3,"t2":4,"z":-140,"z2":-200,"v":0.1},
{"p":"0.5 km","t":4,"t2":5,"z":0,"z2":-10,"v":1.3},{"p":"0.5 km","t":4,"t2":5,"z":-10,"z2":-20,"v":1.9},{"p":"0.5 km","t":4,"t2":5,"z":-20,"z2":-35,"v":1.6},{"p":"0.5 km","t":4,"t2":5,"z":-35,"z2":-50,"v":0.7},{"p":"0.5 km","t":4,"t2":5,"z":-50,"z2":-70,"v":0.3},{"p":"0.5 km","t":4,"t2":5,"z":-70,"z2":-100,"v":0.17},{"p":"0.5 km","t":4,"t2":5,"z":-100,"z2":-140,"v":0.12},{"p":"0.5 km","t":4,"t2":5,"z":-140,"z2":-200,"v":0.09},
{"p":"0.5 km","t":5,"t2":6,"z":0,"z2":-10,"v":1.3},{"p":"0.5 km","t":5,"t2":6,"z":-10,"z2":-20,"v":1.7},{"p":"0.5 km","t":5,"t2":6,"z":-20,"z2":-35,"v":1.6},{"p":"0.5 km","t":5,"t2":6,"z":-35,"z2":-50,"v":0.85},{"p":"0.5 km","t":5,"t2":6,"z":-50,"z2":-70,"v":0.35},{"p":"0.5 km","t":5,"t2":6,"z":-70,"z2":-100,"v":0.18},{"p":"0.5 km","t":5,"t2":6,"z":-100,"z2":-140,"v":0.12},{"p":"0.5 km","t":5,"t2":6,"z":-140,"z2":-200,"v":0.09},
{"p":"0.5 km","t":6,"t2":7,"z":0,"z2":-10,"v":1.3},{"p":"0.5 km","t":6,"t2":7,"z":-10,"z2":-20,"v":1.6},{"p":"0.5 km","t":6,"t2":7,"z":-20,"z2":-35,"v":1.6},{"p":"0.5 km","t":6,"t2":7,"z":-35,"z2":-50,"v":1.1},{"p":"0.5 km","t":6,"t2":7,"z":-50,"z2":-70,"v":0.5},{"p":"0.5 km","t":6,"t2":7,"z":-70,"z2":-100,"v":0.22},{"p":"0.5 km","t":6,"t2":7,"z":-100,"z2":-140,"v":0.12},{"p":"0.5 km","t":6,"t2":7,"z":-140,"z2":-200,"v":0.09},
{"p":"0.5 km","t":7,"t2":8,"z":0,"z2":-10,"v":1.2},{"p":"0.5 km","t":7,"t2":8,"z":-10,"z2":-20,"v":1.4},{"p":"0.5 km","t":7,"t2":8,"z":-20,"z2":-35,"v":1.5},{"p":"0.5 km","t":7,"t2":8,"z":-35,"z2":-50,"v":1.3},{"p":"0.5 km","t":7,"t2":8,"z":-50,"z2":-70,"v":0.8},{"p":"0.5 km","t":7,"t2":8,"z":-70,"z2":-100,"v":0.3},{"p":"0.5 km","t":7,"t2":8,"z":-100,"z2":-140,"v":0.14},{"p":"0.5 km","t":7,"t2":8,"z":-140,"z2":-200,"v":0.09},
{"p":"0.5 km","t":8,"t2":9,"z":0,"z2":-10,"v":1.0},{"p":"0.5 km","t":8,"t2":9,"z":-10,"z2":-20,"v":1.05},{"p":"0.5 km","t":8,"t2":9,"z":-20,"z2":-35,"v":1.1},{"p":"0.5 km","t":8,"t2":9,"z":-35,"z2":-50,"v":1.2},{"p":"0.5 km","t":8,"t2":9,"z":-50,"z2":-70,"v":1.1},{"p":"0.5 km","t":8,"t2":9,"z":-70,"z2":-100,"v":0.55},{"p":"0.5 km","t":8,"t2":9,"z":-100,"z2":-140,"v":0.2},{"p":"0.5 km","t":8,"t2":9,"z":-140,"z2":-200,"v":0.1},
{"p":"0.5 km","t":9,"t2":10,"z":0,"z2":-10,"v":0.75},{"p":"0.5 km","t":9,"t2":10,"z":-10,"z2":-20,"v":0.75},{"p":"0.5 km","t":9,"t2":10,"z":-20,"z2":-35,"v":0.8},{"p":"0.5 km","t":9,"t2":10,"z":-35,"z2":-50,"v":0.85},{"p":"0.5 km","t":9,"t2":10,"z":-50,"z2":-70,"v":0.95},{"p":"0.5 km","t":9,"t2":10,"z":-70,"z2":-100,"v":0.9},{"p":"0.5 km","t":9,"t2":10,"z":-100,"z2":-140,"v":0.35},{"p":"0.5 km","t":9,"t2":10,"z":-140,"z2":-200,"v":0.13},
{"p":"0.5 km","t":10,"t2":11,"z":0,"z2":-10,"v":0.5},{"p":"0.5 km","t":10,"t2":11,"z":-10,"z2":-20,"v":0.5},{"p":"0.5 km","t":10,"t2":11,"z":-20,"z2":-35,"v":0.5},{"p":"0.5 km","t":10,"t2":11,"z":-35,"z2":-50,"v":0.55},{"p":"0.5 km","t":10,"t2":11,"z":-50,"z2":-70,"v":0.6},{"p":"0.5 km","t":10,"t2":11,"z":-70,"z2":-100,"v":0.65},{"p":"0.5 km","t":10,"t2":11,"z":-100,"z2":-140,"v":0.6},{"p":"0.5 km","t":10,"t2":11,"z":-140,"z2":-200,"v":0.2},
{"p":"0.5 km","t":11,"t2":12,"z":0,"z2":-10,"v":0.3},{"p":"0.5 km","t":11,"t2":12,"z":-10,"z2":-20,"v":0.3},{"p":"0.5 km","t":11,"t2":12,"z":-20,"z2":-35,"v":0.3},{"p":"0.5 km","t":11,"t2":12,"z":-35,"z2":-50,"v":0.3},{"p":"0.5 km","t":11,"t2":12,"z":-50,"z2":-70,"v":0.32},{"p":"0.5 km","t":11,"t2":12,"z":-70,"z2":-100,"v":0.35},{"p":"0.5 km","t":11,"t2":12,"z":-100,"z2":-140,"v":0.4},{"p":"0.5 km","t":11,"t2":12,"z":-140,"z2":-200,"v":0.3}
]
},
"resolve":{"scale":{"stroke":"independent"},"legend":{"stroke":"independent"}},
"vconcat":[
{
 "width":806,"height":131,
 "title":{"text":"Magnitude of mixed layer horizontal buoyancy gradients","fontSize":16,"offset":4},
 "data":{"name":"lines"},
 "layer":[
  {"mark":{"type":"line","strokeWidth":1.6},
   "encoding":{
    "x":{"field":"t","type":"quantitative","scale":{"domain":[0,12],"nice":false,"zero":false},
         "axis":{"values":[0,1,2,3,4,5,6,7,8,9,10,11],"labelExpr":"['A','M','J','J','A','S','O','N','D','J','F','M'][datum.value]","title":null,"labelFontSize":17,"labelFlush":false,"ticks":true,"tickSize":-5,"tickColor":"#888","labelPadding":11}},
    "y":{"field":"v","type":"quantitative","scale":{"domain":[0,1.6],"nice":false},
         "axis":{"values":[0,0.5,1,1.5],"format":"~g","title":"10⁻⁷ s⁻²","titleFontSize":16,"labelFontSize":17,"labelFlush":false,"ticks":true,"tickSize":-5,"tickColor":"#888","labelPadding":8,"titlePadding":4}},
    "stroke":{"field":"s","type":"nominal","scale":{"domain":["4 km","2 km","1 km","0.5 km"],"range":["#0000ff","#ff0000","#000000","#008000"]},
         "legend":{"title":null,"orient":"top-right","offset":3,"fillColor":"white","strokeColor":"#666","padding":3,"symbolType":"stroke","symbolStrokeWidth":2,"symbolSize":256,"labelFontSize":16,"rowPadding":0,"labelOffset":4}}
   }},
  {"mark":{"type":"line","strokeOpacity":0},
   "encoding":{
    "x":{"field":"t","type":"quantitative","axis":{"orient":"top","values":[1,2,3,4,5,6,7,8,9,10,11],"labels":false,"title":null,"ticks":true,"tickSize":-5,"tickColor":"#888"}},
    "y":{"field":"v","type":"quantitative","axis":{"orient":"right","values":[0.5,1,1.5],"labels":false,"title":null,"ticks":true,"tickSize":-5,"tickColor":"#888"}},
    "detail":{"field":"s"}
   }}
 ],
 "resolve":{"axis":{"x":"independent","y":"independent"}}
},
{
 "hconcat":[
  {"width":348,"height":132,"view":{"stroke":"#e6d0d0"},
   "encoding":{
    "x":{"field":"t","type":"quantitative","scale":{"domain":[0,12],"nice":false,"zero":false},"axis":{"values":[0,1,2,3,4,5,6,7,8,9,10,11],"labelExpr":"['A','M','J','J','A','S','O','N','D','J','F','M'][datum.value]","title":null,"labelFontSize":15,"labelFlush":false,"labelPadding":4}},
    "y":{"field":"z","type":"quantitative","scale":{"domain":[-200,0],"nice":false},"axis":{"values":[-50,-100,-150,-200],"title":"Depth (m)","titleFontSize":15,"labelFontSize":15,"labelFlush":false,"labelPadding":5,"titlePadding":3}}
   },
   "layer":[
    {"data":{"name":"heat"},"transform":[{"filter":"datum.p == '4 km'"}],"mark":{"type":"rect"},
     "encoding":{"x2":{"field":"t2"},"y2":{"field":"z2"},"fill":{"field":"v","type":"quantitative","title":"Buoyancy gradient (10⁻⁷ s⁻²)","scale":{"domain":[0,1.15,2.33],"range":["#ffffff","#ff0000","#660000"],"interpolate":"rgb"},
      "legend":{"orient":"none","legendX":782,"legendY":180,"direction":"vertical","gradientLength":315,"gradientThickness":14,"gradientStrokeColor":"#888","gradientStrokeWidth":1,"values":[0,0.5,1,1.5,2],"format":"~g","labelFontSize":17,"labelOffset":4,"titleOrient":"right","titleFontSize":17,"titleLimit":400,"titleAnchor":"middle","titleBaseline":"top","titlePadding":3,"encode":{"title":{"update":{"angle":{"value":-90}}}}}}}},
    {"data":{"name":"mld"},"transform":[{"filter":"datum.p == '4 km'"}],"mark":{"type":"line","stroke":"black","strokeWidth":2.5,"interpolate":"monotone"}},
    {"data":{"name":"mld"},"transform":[{"filter":"datum.p == '4 km' && datum.t < 0.05"}],"mark":{"type":"text","align":"left","baseline":"alphabetic","fontSize":20,"fontWeight":"bold","fill":"black"},
     "encoding":{"x":{"datum":0.33,"type":"quantitative"},"y":{"datum":-192,"type":"quantitative"},"text":{"field":"p","type":"nominal"}}}
   ]},
  {"width":400,"height":132,"view":{"stroke":"#e6d0d0"},
   "encoding":{
    "x":{"field":"t","type":"quantitative","scale":{"domain":[0,12],"nice":false,"zero":false},"axis":{"values":[0,1,2,3,4,5,6,7,8,9,10,11],"labelExpr":"['A','M','J','J','A','S','O','N','D','J','F','M'][datum.value]","title":null,"labelFontSize":15,"labelFlush":false,"labelPadding":4}},
    "y":{"field":"z","type":"quantitative","scale":{"domain":[-200,0],"nice":false},"axis":null}
   },
   "layer":[
    {"data":{"name":"heat"},"transform":[{"filter":"datum.p == '2 km'"}],"mark":{"type":"rect"},
     "encoding":{"x2":{"field":"t2"},"y2":{"field":"z2"},"fill":{"field":"v","type":"quantitative","title":"Buoyancy gradient (10⁻⁷ s⁻²)","scale":{"domain":[0,1.15,2.33],"range":["#ffffff","#ff0000","#660000"],"interpolate":"rgb"},
      "legend":{"orient":"none","legendX":782,"legendY":180,"direction":"vertical","gradientLength":315,"gradientThickness":14,"gradientStrokeColor":"#888","gradientStrokeWidth":1,"values":[0,0.5,1,1.5,2],"format":"~g","labelFontSize":17,"labelOffset":4,"titleOrient":"right","titleFontSize":17,"titleLimit":400,"titleAnchor":"middle","titleBaseline":"top","titlePadding":3,"encode":{"title":{"update":{"angle":{"value":-90}}}}}}}},
    {"data":{"name":"mld"},"transform":[{"filter":"datum.p == '2 km'"}],"mark":{"type":"line","stroke":"black","strokeWidth":2.5,"interpolate":"monotone"}},
    {"data":{"name":"mld"},"transform":[{"filter":"datum.p == '2 km' && datum.t < 0.05"}],"mark":{"type":"text","align":"left","baseline":"alphabetic","fontSize":20,"fontWeight":"bold","fill":"black"},
     "encoding":{"x":{"datum":0.33,"type":"quantitative"},"y":{"datum":-192,"type":"quantitative"},"text":{"field":"p","type":"nominal"}}}
   ]}
 ],
 "spacing":21,"bounds":"flush"
},
{
 "hconcat":[
  {"width":348,"height":132,"view":{"stroke":"#e6d0d0"},
   "encoding":{
    "x":{"field":"t","type":"quantitative","scale":{"domain":[0,12],"nice":false,"zero":false},"axis":{"values":[0,1,2,3,4,5,6,7,8,9,10,11],"labelExpr":"['A','M','J','J','A','S','O','N','D','J','F','M'][datum.value]","title":"Time (Month in year 5)","titleFontSize":17,"titlePadding":1,"labelFontSize":15,"labelFlush":false,"labelPadding":3}},
    "y":{"field":"z","type":"quantitative","scale":{"domain":[-200,0],"nice":false},"axis":{"values":[-50,-100,-150,-200],"title":"Depth (m)","titleFontSize":15,"labelFontSize":15,"labelFlush":false,"labelPadding":5,"titlePadding":3}}
   },
   "layer":[
    {"data":{"name":"heat"},"transform":[{"filter":"datum.p == '1 km'"}],"mark":{"type":"rect"},
     "encoding":{"x2":{"field":"t2"},"y2":{"field":"z2"},"fill":{"field":"v","type":"quantitative","title":"Buoyancy gradient (10⁻⁷ s⁻²)","scale":{"domain":[0,1.15,2.33],"range":["#ffffff","#ff0000","#660000"],"interpolate":"rgb"},
      "legend":{"orient":"none","legendX":782,"legendY":180,"direction":"vertical","gradientLength":315,"gradientThickness":14,"gradientStrokeColor":"#888","gradientStrokeWidth":1,"values":[0,0.5,1,1.5,2],"format":"~g","labelFontSize":17,"labelOffset":4,"titleOrient":"right","titleFontSize":17,"titleLimit":400,"titleAnchor":"middle","titleBaseline":"top","titlePadding":3,"encode":{"title":{"update":{"angle":{"value":-90}}}}}}}},
    {"data":{"name":"mld"},"transform":[{"filter":"datum.p == '1 km'"}],"mark":{"type":"line","stroke":"black","strokeWidth":2.5,"interpolate":"monotone"}},
    {"data":{"name":"mld"},"transform":[{"filter":"datum.p == '1 km' && datum.t < 0.05"}],"mark":{"type":"text","align":"left","baseline":"alphabetic","fontSize":20,"fontWeight":"bold","fill":"black"},
     "encoding":{"x":{"datum":0.33,"type":"quantitative"},"y":{"datum":-192,"type":"quantitative"},"text":{"field":"p","type":"nominal"}}}
   ]},
  {"width":400,"height":132,"view":{"stroke":"#e6d0d0"},
   "encoding":{
    "x":{"field":"t","type":"quantitative","scale":{"domain":[0,12],"nice":false,"zero":false},"axis":{"values":[0,1,2,3,4,5,6,7,8,9,10,11],"labelExpr":"['A','M','J','J','A','S','O','N','D','J','F','M'][datum.value]","title":"Time (Month in year 5)","titleFontSize":17,"titlePadding":1,"labelFontSize":15,"labelFlush":false,"labelPadding":3}},
    "y":{"field":"z","type":"quantitative","scale":{"domain":[-200,0],"nice":false},"axis":null}
   },
   "layer":[
    {"data":{"name":"heat"},"transform":[{"filter":"datum.p == '0.5 km'"}],"mark":{"type":"rect"},
     "encoding":{"x2":{"field":"t2"},"y2":{"field":"z2"},"fill":{"field":"v","type":"quantitative","title":"Buoyancy gradient (10⁻⁷ s⁻²)","scale":{"domain":[0,1.15,2.33],"range":["#ffffff","#ff0000","#660000"],"interpolate":"rgb"},
      "legend":{"orient":"none","legendX":782,"legendY":180,"direction":"vertical","gradientLength":315,"gradientThickness":14,"gradientStrokeColor":"#888","gradientStrokeWidth":1,"values":[0,0.5,1,1.5,2],"format":"~g","labelFontSize":17,"labelOffset":4,"titleOrient":"right","titleFontSize":17,"titleLimit":400,"titleAnchor":"middle","titleBaseline":"top","titlePadding":3,"encode":{"title":{"update":{"angle":{"value":-90}}}}}}}},
    {"data":{"name":"mld"},"transform":[{"filter":"datum.p == '0.5 km'"}],"mark":{"type":"line","stroke":"black","strokeWidth":2.5,"interpolate":"monotone"}},
    {"data":{"name":"mld"},"transform":[{"filter":"datum.p == '0.5 km' && datum.t < 0.05"}],"mark":{"type":"text","align":"left","baseline":"alphabetic","fontSize":20,"fontWeight":"bold","fill":"black"},
     "encoding":{"x":{"datum":0.33,"type":"quantitative"},"y":{"datum":-192,"type":"quantitative"},"text":{"field":"p","type":"nominal"}}}
   ]}
 ],
 "spacing":21,"bounds":"flush"
}
]
}
